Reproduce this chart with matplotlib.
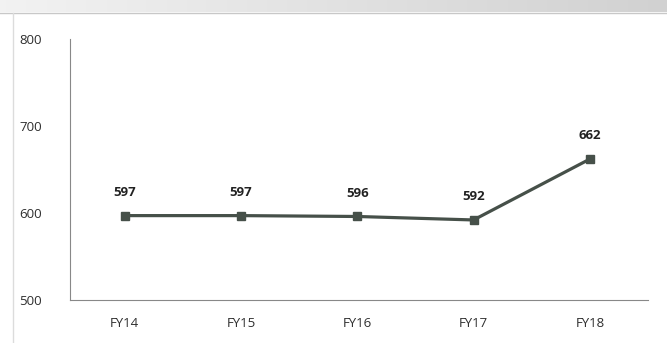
import matplotlib.pyplot as plt
import numpy as np

categories = ["FY14", "FY15", "FY16", "FY17", "FY18"]
values = [597, 597, 596, 592, 662]
yticks = [500, 600, 700, 800]

fig = plt.figure(figsize=(6.67, 3.43), dpi=100)
fig.patch.set_facecolor("white")

# soft gray header strip and panel frame
grad = np.linspace(0.95, 0.82, 256).reshape(1, -1)
hdr = fig.add_axes([0, 1 - 12 / 343, 1, 12 / 343])
hdr.imshow(np.dstack([grad, grad, grad]), aspect="auto", extent=[0, 1, 0, 1])
hdr.axis("off")
fig.add_artist(plt.Line2D([0, 1], [1 - 13 / 343] * 2, color="#c8c8c8", lw=1))
fig.add_artist(plt.Line2D([13 / 667] * 2, [0, 1 - 13 / 343], color="#dcdcdc", lw=1))

ax = fig.add_axes([70 / 667, 1 - 300 / 343, (648 - 70) / 667, (300 - 39) / 343])
x = np.arange(len(categories))
ax.plot(x, values, color="#465049", lw=2.3, marker="s", markersize=6,
        markerfacecolor="#465049", markeredgecolor="#465049")
for xi, v in zip(x, values):
    ax.annotate(str(v), (xi, v), xytext=(0, 12), textcoords="offset points",
                ha="center", va="bottom", fontsize=9.5, fontweight="bold",
                family="Open Sans", color="#222222")

ax.set_xlim(-0.47, len(categories) - 0.5)
ax.set_ylim(500, 800)
ax.set_yticks(yticks)
ax.set_xticks(x)
ax.set_xticklabels(categories)
for lab in ax.get_xticklabels() + ax.get_yticklabels():
    lab.set_family("Open Sans")
    lab.set_fontsize(9.5)
    lab.set_color("#2e2e2e")
ax.tick_params(axis="both", length=0)
ax.tick_params(axis="y", pad=20)
ax.tick_params(axis="x", pad=12)
for s in ["top", "right"]:
    ax.spines[s].set_visible(False)
ax.spines["left"].set_color("#888888")
ax.spines["bottom"].set_color("#888888")
ax.set_facecolor("white")

fig.savefig("out.png", dpi=100)
